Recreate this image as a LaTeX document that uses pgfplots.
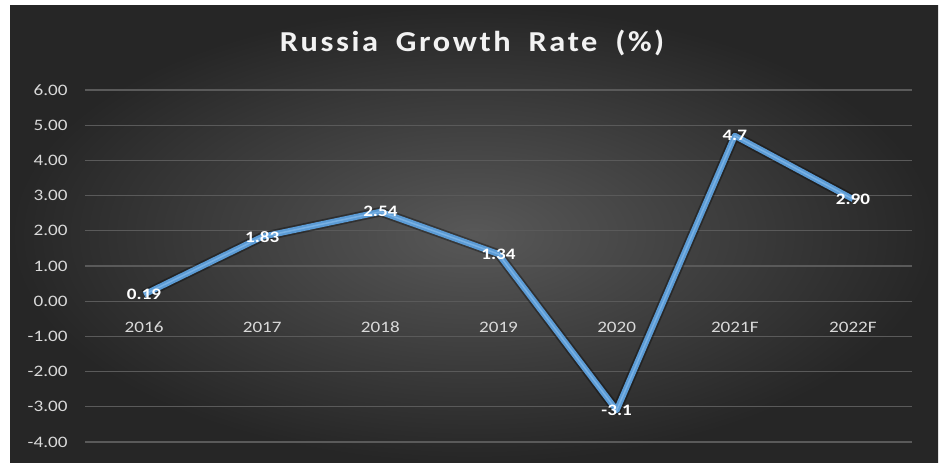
\documentclass[border=0pt]{standalone}
\usepackage{pgfplots}
\pgfplotsset{compat=1.18}
\usepackage{fontspec}
\setmainfont{Carlito}[FakeStretch=1.2]
\newfontfamily\titlefont{Carlito}[FakeStretch=1.12, LetterSpace=9, WordSpace=1.8]
\definecolor{bgin}{HTML}{585858}
\definecolor{bgout}{HTML}{262626}
\definecolor{gridc}{HTML}{5A5A5A}
\definecolor{tickc}{HTML}{D9D9D9}
\definecolor{linec}{HTML}{5B9BD5}
\definecolor{lineh}{HTML}{8EC0EE}
\pgfplotstableread{
x y lab
0 0.19 0.19
1 1.83 1.83
2 2.54 2.54
3 1.34 1.34
4 -3.1 -3.1
5 4.7 4.7
6 2.90 2.90
}\datatable
\begin{document}
\begin{tikzpicture}
\fill[white] (0bp,0bp) rectangle (944bp,463bp);
\shade[inner color=bgin, outer color=bgout] (10bp,0bp) rectangle (938bp,457bp);
\node[text=white!95!black, font=\titlefont\bfseries\fontsize{29}{33}\selectfont] at (472bp,420bp) {Russia Growth Rate (\%)};
\begin{axis}[
  at={(85bp,21bp)}, anchor=south west,
  width=827bp, height=352bp, scale only axis,
  xmin=-0.5, xmax=6.5, ymin=-4, ymax=6,
  axis x line=middle, axis y line=left,
  axis line style={draw=none, -},
  major tick length=0pt,
  xtick={0,...,6},
  xticklabels={2016,2017,2018,2019,2020,2021F,2022F},
  ytick={-4,-3,...,6},
  ymajorgrids, xmajorgrids=false,
  major grid style={color=gridc, line width=1.2bp},
  /pgf/number format/assume math mode=true,
  yticklabel style={/pgf/number format/fixed, /pgf/number format/fixed zerofill, /pgf/number format/precision=2, xshift=-14bp},
  ticklabel style={text=tickc, font=\fontsize{16}{18}\selectfont},
  xticklabel style={yshift=-17bp},
  clip=false,
]
\addplot[draw=black, opacity=0.35, line width=9.5bp, line join=round] table[x=x,y=y] {\datatable};
\addplot[draw=linec, line width=6bp, line join=round] table[x=x,y=y] {\datatable};
\addplot[draw=lineh, opacity=0.6, line width=1.5bp, line join=round,
  nodes near coords, point meta=explicit symbolic,
  every node near coord/.style={anchor=center, text=white, text opacity=1, font=\bfseries\fontsize{16}{18}\selectfont}]
  table[x=x,y=y,meta=lab] {\datatable};
\end{axis}
\end{tikzpicture}
\end{document}
